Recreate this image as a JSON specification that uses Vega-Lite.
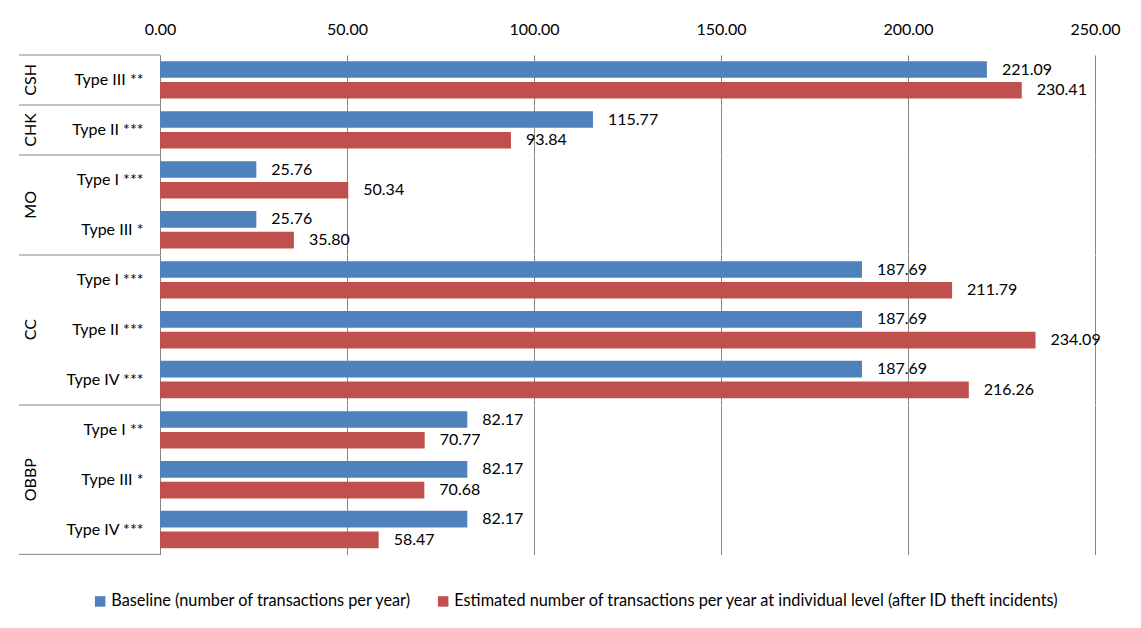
{
  "$schema": "https://vega.github.io/schema/vega-lite/v6.json",
  "padding": {"left": 18, "top": 21, "right": 5, "bottom": 5},
  "background": "white",
  "data": {
    "values": [
      {"group": "CSH", "sub": "Type III **", "series": "Baseline (number of transactions per year)", "value": 221.09},
      {"group": "CSH", "sub": "Type III **", "series": "Estimated number of transactions per year at individual level (after ID theft incidents)", "value": 230.41},
      {"group": "CHK", "sub": "Type II ***", "series": "Baseline (number of transactions per year)", "value": 115.77},
      {"group": "CHK", "sub": "Type II ***", "series": "Estimated number of transactions per year at individual level (after ID theft incidents)", "value": 93.84},
      {"group": "MO", "sub": "Type I ***", "series": "Baseline (number of transactions per year)", "value": 25.76},
      {"group": "MO", "sub": "Type I ***", "series": "Estimated number of transactions per year at individual level (after ID theft incidents)", "value": 50.34},
      {"group": "MO", "sub": "Type III *", "series": "Baseline (number of transactions per year)", "value": 25.76},
      {"group": "MO", "sub": "Type III *", "series": "Estimated number of transactions per year at individual level (after ID theft incidents)", "value": 35.80},
      {"group": "CC", "sub": "Type I ***", "series": "Baseline (number of transactions per year)", "value": 187.69},
      {"group": "CC", "sub": "Type I ***", "series": "Estimated number of transactions per year at individual level (after ID theft incidents)", "value": 211.79},
      {"group": "CC", "sub": "Type II ***", "series": "Baseline (number of transactions per year)", "value": 187.69},
      {"group": "CC", "sub": "Type II ***", "series": "Estimated number of transactions per year at individual level (after ID theft incidents)", "value": 234.09},
      {"group": "CC", "sub": "Type IV ***", "series": "Baseline (number of transactions per year)", "value": 187.69},
      {"group": "CC", "sub": "Type IV ***", "series": "Estimated number of transactions per year at individual level (after ID theft incidents)", "value": 216.26},
      {"group": "OBBP", "sub": "Type I **", "series": "Baseline (number of transactions per year)", "value": 82.17},
      {"group": "OBBP", "sub": "Type I **", "series": "Estimated number of transactions per year at individual level (after ID theft incidents)", "value": 70.77},
      {"group": "OBBP", "sub": "Type III *", "series": "Baseline (number of transactions per year)", "value": 82.17},
      {"group": "OBBP", "sub": "Type III *", "series": "Estimated number of transactions per year at individual level (after ID theft incidents)", "value": 70.68},
      {"group": "OBBP", "sub": "Type IV ***", "series": "Baseline (number of transactions per year)", "value": 82.17},
      {"group": "OBBP", "sub": "Type IV ***", "series": "Estimated number of transactions per year at individual level (after ID theft incidents)", "value": 58.47}
    ]
  },
  "facet": {
    "row": {
      "field": "group",
      "type": "nominal",
      "sort": ["CSH", "CHK", "MO", "CC", "OBBP"],
      "title": null,
      "header": {
        "labelAngle": -90,
        "labelOrient": "left",
        "labelPadding": 113,
        "labelFont": "Lato",
        "labelFontSize": 16,
        "labelColor": "black"
      }
    }
  },
  "spacing": {"row": 0},
  "bounds": "flush",
  "resolve": {"scale": {"y": "independent"}},
  "spec": {
    "width": 935,
    "height": {"step": 20.75},
    "encoding": {
      "y": {
        "field": "sub",
        "type": "nominal",
        "sort": null,
        "scale": {"paddingInner": 0, "paddingOuter": 0},
        "axis": {
          "title": null,
          "ticks": false,
          "labelPadding": 17,
          "labelFont": "Lato",
          "labelFontSize": 16,
          "labelColor": "black",
          "domainColor": "#868686"
        }
      },
      "x": {
        "field": "value",
        "type": "quantitative",
        "scale": {"domain": [0, 250], "nice": false},
        "axis": {
          "orient": "top",
          "title": null,
          "format": ".2f",
          "values": [0, 50, 100, 150, 200, 250],
          "grid": true,
          "gridColor": "#868686",
          "domain": false,
          "ticks": false,
          "labelFlush": false,
          "labelPadding": 18,
          "labelFont": "Lato",
          "labelFontSize": 16,
          "labelColor": "black"
        }
      }
    },
    "layer": [
      {
        "mark": {"type": "bar"},
        "encoding": {
          "yOffset": {
            "field": "series",
            "type": "nominal",
            "scale": {"paddingInner": 0.2, "paddingOuter": 0.3}
          },
          "color": {
            "field": "series",
            "type": "nominal",
            "scale": {"range": ["#4F81BD", "#C0504D"]},
            "legend": {
              "orient": "none",
              "legendX": -68,
              "legendY": 538,
              "direction": "horizontal",
              "title": null,
              "symbolType": "square",
              "symbolSize": 110,
              "symbolStrokeWidth": 0,
              "labelFont": "Lato",
              "labelFontSize": 16.3,
              "labelColor": "black",
              "labelLimit": 800,
              "labelOffset": 3,
              "columnPadding": 23
            }
          }
        }
      },
      {
        "mark": {"type": "text", "align": "left", "baseline": "middle", "dx": 15, "font": "Lato", "fontSize": 16, "color": "black"},
        "encoding": {
          "yOffset": {"field": "series", "type": "nominal"},
          "text": {"field": "value", "type": "quantitative", "format": ".2f"}
        }
      },
      {
        "transform": [
          {"filter": "datum.series === 'Baseline (number of transactions per year)' && (datum.group === 'CSH' || datum.group === 'CHK' || (datum.group === 'MO' && datum.sub === 'Type I ***') || (datum.group === 'CC' && datum.sub === 'Type I ***') || (datum.group === 'OBBP' && datum.sub === 'Type I **'))"}
        ],
        "mark": {"type": "rule", "clip": false, "color": "#868686"},
        "encoding": {
          "y": {"field": "sub", "type": "nominal", "bandPosition": 0},
          "x": {"datum": -37.7},
          "x2": {"datum": 0}
        }
      },
      {
        "transform": [
          {"filter": "datum.series === 'Baseline (number of transactions per year)' && datum.group === 'OBBP' && datum.sub === 'Type IV ***'"}
        ],
        "mark": {"type": "rule", "clip": false, "color": "#868686"},
        "encoding": {
          "y": {"field": "sub", "type": "nominal", "bandPosition": 1},
          "x": {"datum": -37.7},
          "x2": {"datum": 0}
        }
      }
    ]
  },
  "config": {
    "view": {"stroke": null}
  }
}
